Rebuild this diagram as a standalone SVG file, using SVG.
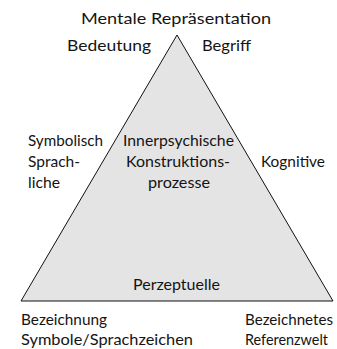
<svg xmlns="http://www.w3.org/2000/svg" width="337" height="349" viewBox="0 0 337 349">
<style>
text { font-family: Lato, "Open Sans", sans-serif; font-size: 16px; fill: #141414; }
.tri { fill: #e4e4e4; stroke: #111; stroke-width: 1; }
</style>
<rect width="337" height="349" fill="#fff"/>
<g id="connectors">
<polygon id="triangle" class="tri" points="177,35 21,301 333,301"/>
</g>
<g id="apex">
<text x="81" y="24" textLength="190" lengthAdjust="spacingAndGlyphs">Mentale Repräsentation</text>
<text x="67" y="51" textLength="84" lengthAdjust="spacingAndGlyphs">Bedeutung</text>
<text x="202" y="51" textLength="49" lengthAdjust="spacingAndGlyphs">Begriff</text>
</g>
<g id="left-side">
<text x="28" y="146" textLength="75" lengthAdjust="spacingAndGlyphs">Symbolisch</text>
<text x="28" y="167" textLength="52" lengthAdjust="spacingAndGlyphs">Sprach-</text>
<text x="28" y="188" textLength="32" lengthAdjust="spacingAndGlyphs">liche</text>
</g>
<g id="center">
<text x="123" y="146" textLength="111" lengthAdjust="spacingAndGlyphs">Innerpsychische</text>
<text x="126" y="167" textLength="104" lengthAdjust="spacingAndGlyphs">Konstruktions-</text>
<text x="148" y="188" textLength="62" lengthAdjust="spacingAndGlyphs">prozesse</text>
</g>
<g id="right-side">
<text x="261" y="167" textLength="64" lengthAdjust="spacingAndGlyphs">Kognitive</text>
</g>
<g id="bottom">
<text x="133" y="290" textLength="87" lengthAdjust="spacingAndGlyphs">Perzeptuelle</text>
</g>
<g id="bottom-left">
<text x="21" y="325" textLength="86" lengthAdjust="spacingAndGlyphs">Bezeichnung</text>
<text x="21" y="345" textLength="172" lengthAdjust="spacingAndGlyphs">Symbole/Sprachzeichen</text>
</g>
<g id="bottom-right">
<text x="245" y="325" textLength="88" lengthAdjust="spacingAndGlyphs">Bezeichnetes</text>
<text x="245" y="345" textLength="83" lengthAdjust="spacingAndGlyphs">Referenzwelt</text>
</g>
</svg>
